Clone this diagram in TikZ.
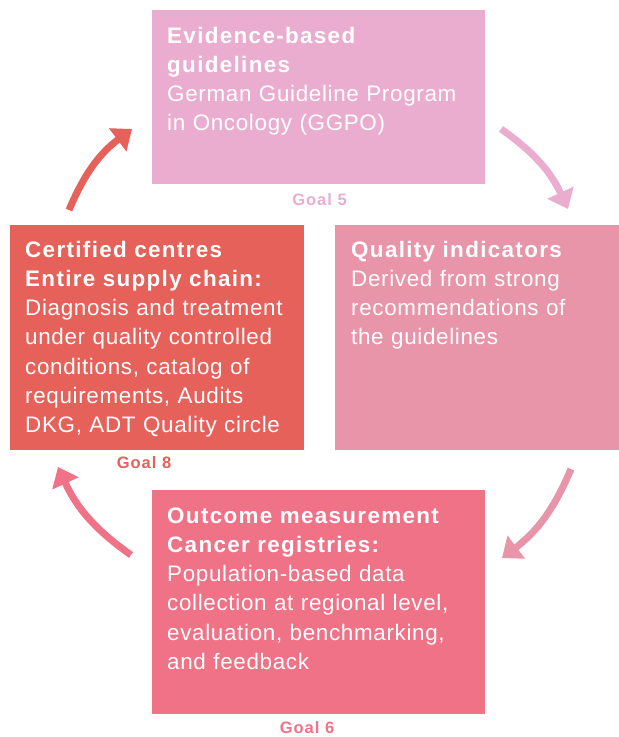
\documentclass[tikz,border=0pt]{standalone}
\usepackage{fontspec}
\setmainfont{Liberation Sans}[LetterSpace=3, BoldFeatures={LetterSpace=6}]
\usetikzlibrary{arrows.meta}
\definecolor{cTop}{HTML}{EAADCF}
\definecolor{cRight}{HTML}{E895A9}
\definecolor{cLeft}{HTML}{E5615A}
\definecolor{cBot}{HTML}{F07287}
\begin{document}
\begin{tikzpicture}[x=1pt,y=-1pt,
  box/.style={draw=none, inner sep=0pt, outer sep=0pt, anchor=north west},
  txt/.style={anchor=base west, inner sep=0pt, text=white, align=left, text width=300pt, font=\fontsize{22.4}{29.3}\selectfont},
  goal/.style={anchor=base, inner sep=0pt, font=\bfseries\fontsize{16.5}{18}\selectfont},
  cyc/.style={line width=7pt, -{Triangle[width=28pt,length=18pt]}, bend left=15}
]
\useasboundingbox (0,0) rectangle (619,737);
% boxes
\node[box, fill=cTop, minimum width=333pt, minimum height=174pt] (top) at (152,10) {};
\node[box, fill=cRight, minimum width=284pt, minimum height=225pt] (right) at (335,225) {};
\node[box, fill=cLeft, minimum width=294pt, minimum height=225pt] (left) at (10,225) {};
\node[box, fill=cBot, minimum width=333pt, minimum height=224pt] (bot) at (152,490) {};
% texts
\node[txt] (topT) at (167,43) {{\bfseries Evidence-based\\guidelines}\\German Guideline Program\\in Oncology (GGPO)};
\node[txt] (rightT) at (351,257) {{\bfseries Quality indicators}\\Derived from strong\\recommendations of\\the guidelines};
\node[txt] (leftT) at (25,257) {{\bfseries Certified centres\\Entire supply chain:}\\Diagnosis and treatment\\under quality controlled\\conditions, catalog of\\requirements, Audits\\DKG, ADT Quality circle};
\node[txt] (botT) at (167,523) {{\bfseries Outcome measurement\\Cancer registries:}\\Population-based data\\collection at regional level,\\evaluation, benchmarking,\\and feedback};
% goals
\node[goal, text=cTop] (g5) at (319.5,205) {Goal 5};
\node[goal, text=cLeft] (g8) at (144,468) {Goal 8};
\node[goal, text=cBot] (g6) at (307,733) {Goal 6};
% arrows
\coordinate (a1s) at (501,129); \coordinate (a1e) at (568,209);
\coordinate (a2s) at (69,210);  \coordinate (a2e) at (132,129);
\coordinate (a3s) at (571,469); \coordinate (a3e) at (502,558);
\coordinate (a4s) at (131,555); \coordinate (a4e) at (58,467);
\draw[cyc, draw=cTop] (a1s) to (a1e);
\draw[cyc, draw=cLeft] (a2s) to (a2e);
\draw[cyc, draw=cRight] (a3s) to (a3e);
\draw[cyc, draw=cBot] (a4s) to (a4e);
\end{tikzpicture}
\end{document}
